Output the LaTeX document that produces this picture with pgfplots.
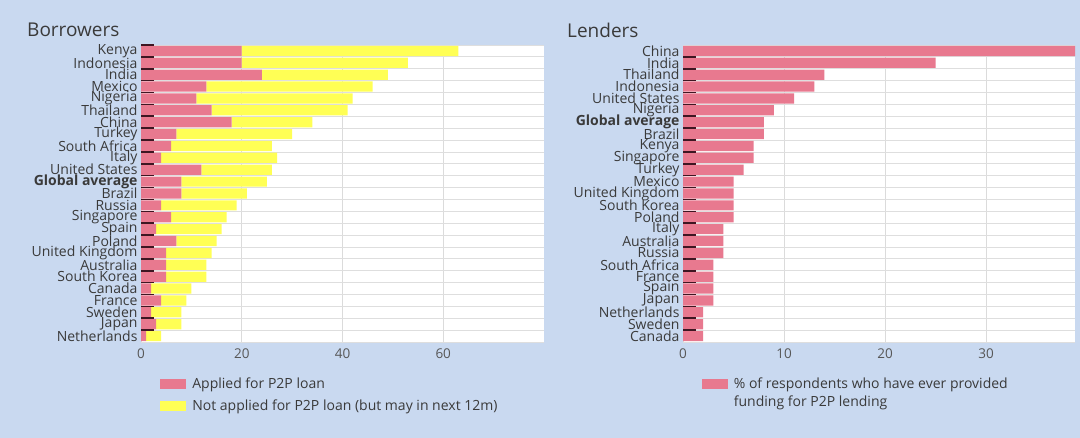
\documentclass[border=0pt]{standalone}
\usepackage{pgfplots}
\usepackage{pgfplotstable}
\pgfplotsset{compat=1.18}
\usepackage{fontspec}
\setmainfont{Open Sans}
\definecolor{bg}{HTML}{C9D9F0}
\definecolor{pinkbar}{HTML}{E8798F}
\definecolor{yellowbar}{HTML}{FFFF55}
\definecolor{txt}{HTML}{3A3A3A}
\definecolor{tickdark}{HTML}{3E1622}

% Borrowers: applied, and the additional share not applied (but may in next 12m)
\pgfplotstableread{
idx applied notapplied
0 20 43
1 20 33
2 24 25
3 13 33
4 11 31
5 14 27
6 18 16
7 7 23
8 6 20
9 4 23
10 12 14
11 8 17
12 8 13
13 4 15
14 6 11
15 3 13
16 7 8
17 5 9
18 5 8
19 5 8
20 2 8
21 4 5
22 2 6
23 3 5
24 1 3
}\borrowers

\pgfplotstableread{
idx lent
0 39
1 25
2 14
3 13
4 11
5 9
6 8
7 8
8 7
9 7
10 6
11 5
12 5
13 5
14 5
15 4
16 4
17 4
18 3
19 3
20 3
21 3
22 2
23 2
24 2
}\lenders

\pgfplotsset{
  frame/.style={
    scale only axis, height=297pt, anchor=south west,
    y dir=reverse, ymin=-0.5, ymax=24.5, xmin=0,
    axis line style={draw=none},
    ytick pos=left, xtick pos=bottom,
  },
  common/.style={
    frame,
    major tick length=0pt, minor tick length=0pt,
    ytick={0,...,24},
    axis background/.style={fill=white},
    xmajorgrids, yminorgrids,
    major grid style={draw=black!14, line width=0.8pt},
    minor grid style={draw=black!13, line width=0.8pt},
    yticklabel style={font=\fontsize{14}{14}\selectfont, text=txt},
    xticklabel style={font=\fontsize{13.5}{13.5}\selectfont, text=txt!85, yshift=-3pt},
    /pgf/number format/assume math mode=true,
    bar width=0.86,
    legend style={draw=none, fill=none, font=\fontsize{14}{18}\selectfont, text=txt,
      row sep=6pt, column sep=4pt, anchor=north west, cells={align=left}},
    legend cell align=left,
    legend image code/.code={\fill[#1] (0pt,-5pt) rectangle (26pt,5pt);},
  },
  ticksonly/.style={
    frame,
    yticklabels={}, xtick=\empty,
    major tick length=13pt, tick align=inside,
    major tick style={draw=tickdark, line width=1.6pt},
  },
}

\begin{document}
\begin{tikzpicture}
\fill[bg] (0pt,0pt) rectangle (1080pt,438pt);
\node[anchor=west, font=\fontsize{19}{20}\selectfont, text=txt, inner sep=0pt] at (27pt,408pt) {Borrowers};
\node[anchor=west, font=\fontsize{19}{20}\selectfont, text=txt, inner sep=0pt] at (567pt,408pt) {Lenders};

\begin{axis}[
  xbar stacked, common,
  at={(141pt,96pt)}, width=403pt,
  xmax=80, xtick={0,20,40,60},
  minor ytick={-0.5,0.5,...,24.5},
  yticklabels={Kenya,Indonesia,India,Mexico,Nigeria,Thailand,China,Turkey,South Africa,Italy,United States,\textbf{Global average},Brazil,Russia,Singapore,Spain,Poland,United Kingdom,Australia,South Korea,Canada,France,Sweden,Japan,Netherlands},
  legend style={at={(axis description cs:0.04,-0.107)}},
]
\addplot[fill=pinkbar, draw=none] table[x=applied, y=idx] {\borrowers};
\addlegendentry{Applied for P2P loan}
\addplot[fill=yellowbar, draw=none] table[x=notapplied, y=idx] {\borrowers};
\addlegendentry{Not applied for P2P loan (but may in next 12m)}
\end{axis}
\begin{axis}[ticksonly, at={(141pt,96pt)}, width=403pt, xmax=80,
  ytick={-0.5,0.5,...,23.5}]
\end{axis}

\begin{axis}[
  xbar, common,
  at={(683pt,96pt)}, width=392pt,
  xmax=38.8, xtick={0,10,20,30},
  minor ytick={-0.5,0.5,...,24.5},
  yticklabels={China,India,Thailand,Indonesia,United States,Nigeria,\textbf{Global average},Brazil,Kenya,Singapore,Turkey,Mexico,United Kingdom,South Korea,Poland,Italy,Australia,Russia,South Africa,France,Spain,Japan,Netherlands,Sweden,Canada},
  legend style={at={(axis description cs:0.04,-0.107)}},
  legend image code/.code={\path (0pt,-14.3pt); \fill[#1] (0pt,4.3pt) rectangle (26pt,14.3pt);},
]
\addplot[fill=pinkbar, draw=none] table[x=lent, y=idx] {\lenders};
\addlegendentry{\% of respondents who have ever provided\\funding for P2P lending}
\end{axis}
\begin{axis}[ticksonly, at={(683pt,96pt)}, width=392pt, xmax=38.8,
  ytick={0.5,1.5,...,23.5}]
\end{axis}
\end{tikzpicture}
\end{document}
